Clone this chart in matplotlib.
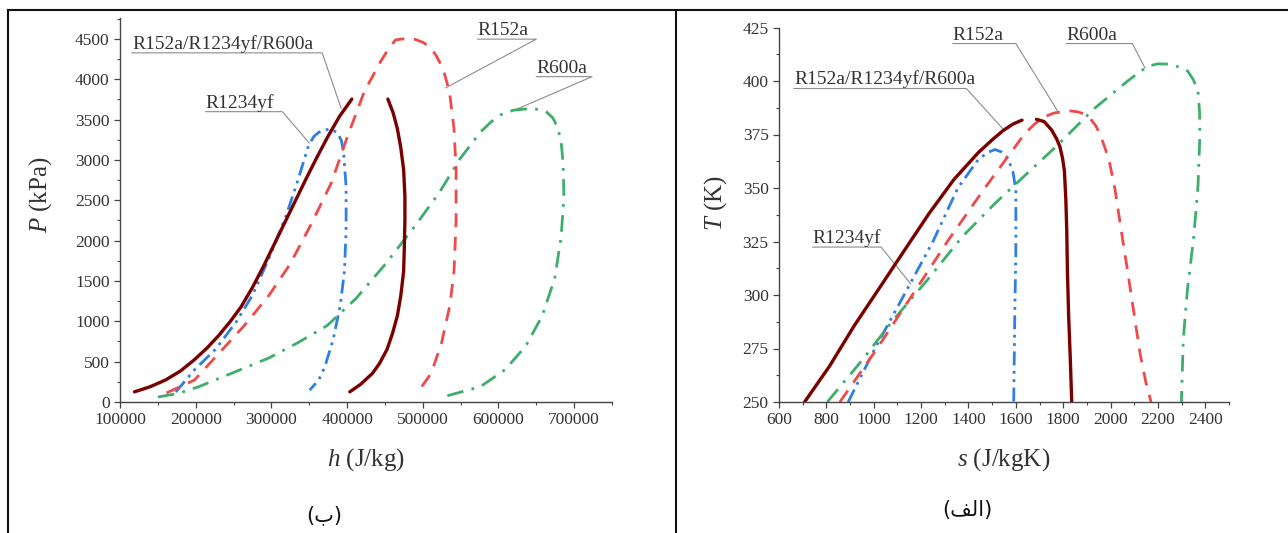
import matplotlib
matplotlib.use("Agg")
import matplotlib.pyplot as plt
from matplotlib.lines import Line2D
from matplotlib.ticker import MultipleLocator

plt.rcParams['font.family'] = ['Liberation Serif', 'DejaVu Sans']
plt.rcParams['mathtext.fontset'] = 'custom'
plt.rcParams['mathtext.rm'] = 'Liberation Serif'
plt.rcParams['mathtext.it'] = 'Liberation Serif:italic'

# ---- P-h (ب) ----
mix_liq_h = [119100, 140000, 160200, 180000, 198500, 215000, 230000, 245000, 260000, 275000,
             290000, 304000, 318000, 332000, 346000, 360000, 374000, 390000, 406300]
mix_liq_P = [126, 190, 273, 385, 526, 670, 820, 990, 1180, 1420,
             1690, 1960, 2230, 2500, 2770, 3030, 3280, 3540, 3755]
mix_vap_h = [453900, 461000, 466500, 471000, 474700, 476400, 476400, 475600, 474700, 471000,
             466500, 460000, 452800, 443000, 433700, 418000, 403600]
mix_vap_P = [3755, 3580, 3385, 3150, 2880, 2550, 2250, 1900, 1619, 1320,
             1072, 850, 652, 480, 357, 220, 126]

r152_h = [161400, 198500, 231300, 264100, 297000, 324300, 351600, 379000, 400900, 422800, 444600,
          455000, 463800, 472000, 480200, 490000, 500300, 509000, 516700, 522500, 527600, 532000,
          535800, 541300, 544000, 544000, 541300, 535800, 524900, 511200, 492100]
r152_P = [112, 273, 610, 946, 1325, 1703, 2187, 2712, 3301, 3848, 4226,
          4380, 4487, 4500, 4500, 4495, 4458, 4400, 4310, 4210, 4100, 3960,
          3806, 3385, 2880, 2250, 1619, 1198, 736, 357, 105]

r1234_h = [173700, 198500, 226000, 253200, 275100, 297000, 318800, 335200, 348900, 356000, 362600,
           376300, 387200, 392500, 395400, 398700, 398700, 396500, 391000, 381700, 370800, 362600,
           350500]
r1234_P = [124, 400, 652, 988, 1325, 1787, 2292, 2754, 3175, 3290, 3343,
           3385, 3343, 3240, 3091, 2670, 2124, 1619, 1198, 778, 442, 273,
           147]

r600_h = [150000, 176600, 203900, 247700, 297000, 335200, 373500, 411800, 450100, 488400, 521200,
          548600, 575900, 590000, 603000, 619700, 641600, 655000, 663500, 672000, 678800, 683000,
          685400, 686500, 682700, 674400, 658000, 636100, 608700, 575900, 543100, 523900]
r600_P = [62, 105, 189, 357, 547, 736, 946, 1283, 1703, 2166, 2586,
          3007, 3343, 3470, 3560, 3617, 3638, 3625, 3595, 3520, 3385, 3200,
          2965, 2544, 2040, 1535, 1072, 694, 400, 189, 105, 55]

# ---- T-s (الف) ----
mix_liq_s = [708, 813, 918, 1023, 1128, 1233, 1338, 1442, 1500, 1547, 1590, 1626]
mix_liq_T = [250, 266.7, 285.7, 303.1, 320.6, 338, 353.9, 366.6, 372.5, 376.9, 380, 381.7]
mix_vap_s = [1687, 1720, 1751, 1772, 1786, 1797, 1805, 1811, 1815, 1818, 1823, 1830, 1836]
mix_vap_T = [382.1, 381, 377.1, 373, 369.3, 364, 358, 345, 330, 310, 290, 270, 250]

r152_s = [857, 1014, 1163, 1311, 1469, 1635, 1680, 1722, 1760, 1792, 1830, 1862, 1890, 1914,
          1938, 1958, 1993, 2019, 2045, 2072, 2098, 2124, 2150, 2171]
r152_T = [250, 275, 300, 325, 350, 375, 380, 383.3, 385, 385.6, 386, 385.6, 384.5, 382.5,
          379, 374.5, 363.4, 349.2, 330.1, 311.1, 292, 273, 258.7, 250]

r1234_s = [892, 1005, 1128, 1250, 1355, 1442, 1480, 1512, 1540, 1566, 1588, 1600, 1600, 1596, 1591]
r1234_T = [250, 275, 300, 325, 350, 363.4, 366.5, 368, 366.8, 364, 357.5, 349, 320, 295, 250]

r600_s = [804, 953, 1075, 1233, 1372, 1512, 1635, 1774, 1932, 2071, 2120, 2159, 2200, 2246,
          2290, 2325, 2350, 2369, 2376, 2377, 2369, 2351, 2325, 2307, 2299]
r600_T = [250, 269.8, 287.3, 307.9, 327, 342.8, 355.5, 369.8, 387.2, 399.9, 404, 407, 408, 407.9,
          406.5, 404.7, 400.5, 395.2, 385, 374.5, 350.7, 327, 303.1, 279.4, 250]

# label text, underline start/end, leader end (data coords)
ph_labels = [
    ("R152a/R1234yf/R600a", 115800, 367100, 4328, 392100, 3643),
    ("R1234yf", 213200, 314500, 3599, 350000, 3211),
    ("R152a", 572400, 650000, 4498, 530300, 3894),
    ("R600a", 650000, 723700, 4033, 622900, 3625),
]
ts_labels = [
    ("R152a", 1334, 1600, 417.5, 1775, 386.2),
    ("R600a", 1813, 2092, 417.5, 2145, 406.1),
    ("R152a/R1234yf/R600a", 663, 1391, 396.5, 1544, 377.8),
    ("R1234yf", 742, 1031, 322.4, 1156, 305.2),
]

c_mix = '#7a0000'
c_red = '#ef4a4a'
c_blue = '#2f7fe0'
c_green = '#3dae6b'
txt = '#333333'

fig = plt.figure(figsize=(12.88, 5.33), dpi=100)
ax1 = fig.add_axes([120 / 1288, 131 / 533, 492 / 1288, 384 / 533])
ax2 = fig.add_axes([779 / 1288, 131 / 533, 450 / 1288, 374.5 / 533])


def style_axes(ax):
    for sp in ['top', 'right']:
        ax.spines[sp].set_visible(False)
    for sp in ['left', 'bottom']:
        ax.spines[sp].set_color('#444444')
        ax.spines[sp].set_linewidth(1.0)
    ax.tick_params(which='major', direction='out', length=4, width=0.9, colors='#444444',
                   labelsize=12.5, labelcolor=txt)
    ax.tick_params(which='minor', direction='out', length=2.5, width=0.8, colors='#444444')


def draw_labels(ax, labels):
    for name, x0, x1, y0, xe, ye in labels:
        ax.plot([x0, x1, xe], [y0, y0, ye], color='#8c8c8c', lw=0.8, zorder=1)
        ax.text(x0, y0, name, fontsize=14, color=txt, ha='left', va='bottom')


# left: P-h
ax1.plot(r1234_h, r1234_P, color=c_blue, lw=2, dashes=(5, 2, 1, 2, 1, 2))
ax1.plot(r600_h, r600_P, color=c_green, lw=2, dashes=(6, 3, 1, 3))
ax1.plot(r152_h, r152_P, color=c_red, lw=2, dashes=(5, 3.5))
ax1.plot(mix_liq_h, mix_liq_P, color=c_mix, lw=2.4, solid_capstyle='round')
ax1.plot(mix_vap_h, mix_vap_P, color=c_mix, lw=2.4, solid_capstyle='round')
ax1.set_xlim(100000, 750000)
ax1.set_ylim(0, 4760)
ax1.xaxis.set_major_locator(MultipleLocator(100000))
ax1.xaxis.set_minor_locator(MultipleLocator(50000))
ax1.yaxis.set_major_locator(MultipleLocator(500))
ax1.yaxis.set_minor_locator(MultipleLocator(250))
style_axes(ax1)
draw_labels(ax1, ph_labels)
ax1.set_xlabel('$h$ (J/kg)', fontsize=18, color=txt, labelpad=13)
ax1.set_ylabel('$P$ (kPa)', fontsize=18, color=txt)
ax1.yaxis.set_label_coords(-0.134, 0.54)

# right: T-s
ax2.plot(r1234_s, r1234_T, color=c_blue, lw=2, dashes=(5, 2, 1, 2, 1, 2))
ax2.plot(r600_s, r600_T, color=c_green, lw=2, dashes=(6, 3, 1, 3))
ax2.plot(r152_s, r152_T, color=c_red, lw=2, dashes=(5, 3.5))
ax2.plot(mix_liq_s, mix_liq_T, color=c_mix, lw=2.4, solid_capstyle='round')
ax2.plot(mix_vap_s, mix_vap_T, color=c_mix, lw=2.4, solid_capstyle='round')
ax2.set_xlim(600, 2500)
ax2.set_ylim(250, 425)
ax2.xaxis.set_major_locator(MultipleLocator(200))
ax2.xaxis.set_minor_locator(MultipleLocator(100))
ax2.yaxis.set_major_locator(MultipleLocator(25))
ax2.yaxis.set_minor_locator(MultipleLocator(12.5))
style_axes(ax2)
draw_labels(ax2, ts_labels)
ax2.set_xlabel('$s$ (J/kgK)', fontsize=18, color=txt, labelpad=13)
ax2.set_ylabel('$T$ (K)', fontsize=18, color=txt)
ax2.yaxis.set_label_coords(-0.111, 0.53)

# captions (Arabic, visual order with presentation forms)
fig.text(324 / 1288, 1 - 515 / 533, '(\u0628)', fontsize=15, family='DejaVu Sans',
         ha='center', va='center', color='#111111')
fig.text(967 / 1288, 1 - 510 / 533, '(\uFED2\uFEDF\uFE8D)', fontsize=15, family='DejaVu Sans',
         ha='center', va='center', color='#111111')

# table frame
yt = 1 - 10 / 533
fig.add_artist(Line2D([8 / 1288, 1], [yt, yt], color='#111111', lw=1.5))
fig.add_artist(Line2D([8 / 1288, 8 / 1288], [0, yt], color='#111111', lw=1.5))
fig.add_artist(Line2D([676 / 1288, 676 / 1288], [0, yt], color='#111111', lw=1.5))

fig.savefig('out.png', dpi=100, facecolor='white')
